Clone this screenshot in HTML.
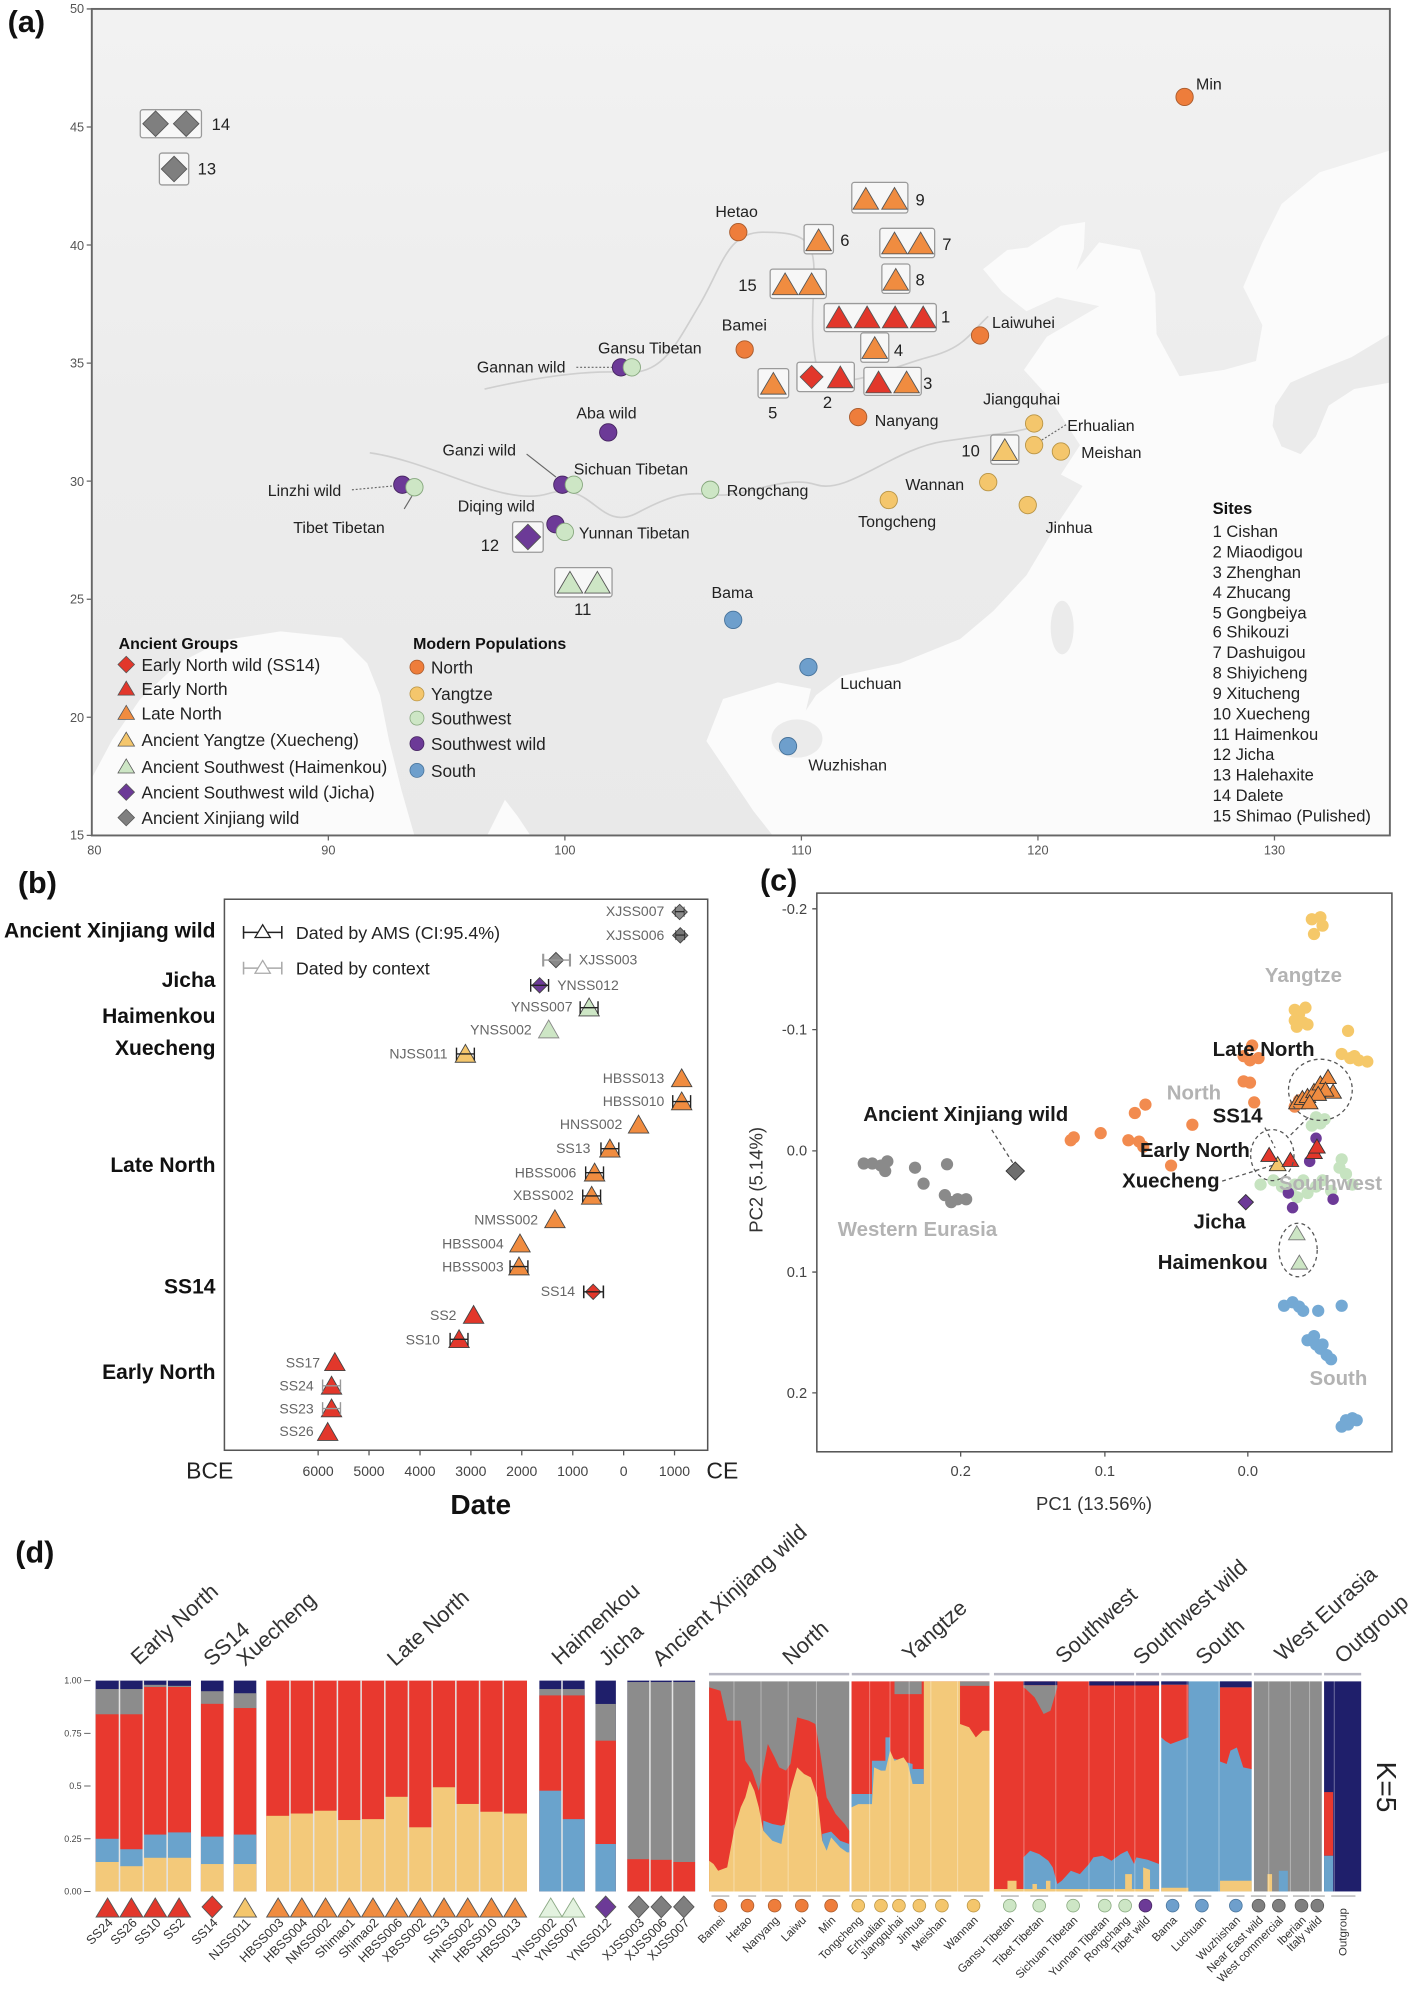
<!DOCTYPE html>
<html><head><meta charset="utf-8"><style>
html,body{margin:0;padding:0;background:#fff;}
svg{display:block;}
text{font-family:"Liberation Sans",Arial,sans-serif;}
</style></head><body>
<svg width="1409" height="2000" viewBox="0 0 1105 1568" preserveAspectRatio="none" xmlns="http://www.w3.org/2000/svg">
<defs>
<path id="tA" d="M0,-9L10,8L-10,8Z"/>
<path id="dA" d="M0,-10L10,0L0,10L-10,0Z"/>
<path id="tL" d="M0,-6L6.5,5L-6.5,5Z"/>
<path id="dL" d="M0,-6.5L6.5,0L0,6.5L-6.5,0Z"/>
<path id="tB" d="M0,-7.5L8,6.5L-8,6.5Z"/>
<path id="dB" d="M0,-6L6,0L0,6L-6,0Z"/>
<path id="tC" d="M0,-6L6.5,5L-6.5,5Z"/>
<path id="tD" d="M0,-8L9,7L-9,7Z"/>
<path id="dD" d="M0,-8.5L8,0L0,8.5L-8,0Z"/>
<path id="eb" d="M-7,1H7M-7,-4V6M7,-4V6" fill="none"/>
<linearGradient id="land" x1="0" y1="0" x2="0" y2="1">
<stop offset="0" stop-color="#f2f2f2"/><stop offset="0.5" stop-color="#ececec"/><stop offset="1" stop-color="#e9e9e9"/>
</linearGradient>
<clipPath id="mapclip"><rect x="72" y="7" width="1018" height="648"/></clipPath>
</defs>
<rect x="0" y="0" width="1105" height="1568" fill="#fff"/>

<!-- ================= PANEL A ================= -->
<g clip-path="url(#mapclip)">
<rect x="72" y="7" width="1018" height="648" fill="url(#land)"/>
<!-- east seas -->
<polygon fill="#fbfbfb" points="771,211 790,196 806,194 832,177 851,174 850,195 844,212 862,190 894,196 906,230 907,262 925,295 960,290 985,283 990,255 975,225 990,190 1005,160 1035,135 1090,118 1090,655 606,655 591,636 554,581 567,548 610,535 636,540 632,557 640,545 660,530 706,520 753,501 779,479 805,451 827,414 849,381 832,372 847,349 823,312 803,290 821,264 862,240 829,233 805,244 786,229"/>
<!-- Japan -->
<polygon fill="#ebebeb" points="1000,318 1012,300 1035,290 1060,280 1090,262 1090,300 1062,305 1042,318 1032,342 1020,356 1005,350 998,334"/>
<!-- Taiwan -->
<ellipse cx="833" cy="492" rx="9" ry="21" fill="#ebebeb"/>
<!-- Hainan -->
<ellipse cx="625" cy="579" rx="20" ry="15" fill="#ebebeb"/>
<!-- Bay of Bengal -->
<polygon fill="#fbfbfb" points="72,655 72,610 88,580 110,548 140,520 175,502 220,495 268,500 288,520 298,545 305,580 315,620 325,655"/>
<polygon fill="#fbfbfb" points="382,655 396,627 406,640 416,655"/>
<!-- rivers -->
<path d="M380,305 C420,296 460,290 490,292 S530,270 548,240 S570,182 598,182 S636,186 638,205 S634,255 640,285 S700,287 728,280 S760,262 775,248" fill="none" stroke="#cfcfcf" stroke-width="1.3"/>
<path d="M290,355 C340,362 395,398 430,387 S470,418 500,402 S540,386 562,388 S615,372 640,380 S700,352 740,346 S790,340 806,336" fill="none" stroke="#cfcfcf" stroke-width="1.3"/>
</g>
<rect x="72" y="7" width="1018" height="648" fill="none" stroke="#666" stroke-width="1.5"/>
<text x="6" y="25" font-size="24" font-weight="bold" fill="#111">(a)</text>
<!-- axis ticks -->
<g font-size="10" fill="#555" text-anchor="end">
<text x="66" y="10">50</text><text x="66" y="103">45</text><text x="66" y="196">40</text><text x="66" y="288">35</text>
<text x="66" y="381">30</text><text x="66" y="473">25</text><text x="66" y="566">20</text><text x="66" y="658">15</text>
</g>
<g stroke="#666" stroke-width="1">
<path d="M68,7H72M68,99.6H72M68,192.1H72M68,284.7H72M68,377.2H72M68,469.8H72M68,562.3H72M68,654.9H72"/>
<path d="M257.5,655V659M443,655V659M628.5,655V659M814,655V659M999.5,655V659"/>
</g>
<g font-size="10" fill="#555" text-anchor="middle">
<text x="74" y="670">80</text><text x="257.5" y="670">90</text><text x="443" y="670">100</text><text x="628.5" y="670">110</text><text x="814" y="670">120</text><text x="999.5" y="670">130</text>
</g>

<!-- site boxes -->
<g fill="#f7f7f7" stroke="#9a9a9a" stroke-width="1">
<rect x="110" y="86" width="48" height="22" rx="2"/>
<rect x="125" y="120" width="23" height="25" rx="2"/>
<rect x="668" y="143" width="44" height="24" rx="2"/>
<rect x="630.6" y="176" width="23" height="23" rx="2"/>
<rect x="690" y="179" width="43" height="23" rx="2"/>
<rect x="691.6" y="207" width="22" height="23" rx="2"/>
<rect x="604" y="211" width="44" height="23" rx="2"/>
<rect x="646.3" y="238" width="88" height="22" rx="2"/>
<rect x="675" y="261" width="22" height="23" rx="2"/>
<rect x="625" y="284" width="45" height="23" rx="2"/>
<rect x="677.5" y="288" width="45" height="22" rx="2"/>
<rect x="594.5" y="289" width="24" height="23" rx="2"/>
<rect x="777" y="341" width="22" height="23" rx="2"/>
<rect x="435" y="445" width="45" height="23" rx="2"/>
<rect x="402" y="409" width="24" height="24" rx="2"/>
</g>
<g stroke="#555" stroke-width="0.7">
<use href="#dA" x="122" y="97" fill="#7f7f7f"/>
<use href="#dA" x="146" y="97" fill="#7f7f7f"/>
<use href="#dA" x="136.5" y="132.5" fill="#7f7f7f"/>
<use href="#tA" x="679" y="156" fill="#f08c40"/><use href="#tA" x="701.5" y="156" fill="#f08c40"/>
<use href="#tA" x="642" y="188.5" fill="#f08c40"/>
<use href="#tA" x="701.5" y="191" fill="#f08c40"/><use href="#tA" x="722" y="191" fill="#f08c40"/>
<use href="#tA" x="702.5" y="219.5" fill="#f08c40"/>
<use href="#tA" x="615.7" y="223" fill="#f08c40"/><use href="#tA" x="636.5" y="223" fill="#f08c40"/>
<use href="#tA" x="658" y="249" fill="#e2372b"/><use href="#tA" x="680" y="249" fill="#e2372b"/><use href="#tA" x="702" y="249" fill="#e2372b"/><use href="#tA" x="724" y="249" fill="#e2372b"/>
<use href="#tA" x="686" y="273" fill="#f08c40"/>
<use href="#dA" transform="translate(636.5,295.5) scale(0.9)" fill="#e2372b"/>
<use href="#tA" x="659" y="296" fill="#e2372b"/>
<use href="#tA" x="689" y="300" fill="#e2372b"/><use href="#tA" x="711" y="300" fill="#f08c40"/>
<use href="#tA" x="606.5" y="301" fill="#f08c40"/>
<use href="#tA" x="788" y="353" fill="#f4c66c"/>
<use href="#tA" x="447" y="457" fill="#cde6c5"/><use href="#tA" x="468.5" y="457" fill="#cde6c5"/>
<use href="#dA" x="414" y="421" fill="#6c3a97"/>
</g>
<g font-size="13" fill="#222">
<text x="166" y="102">14</text><text x="155" y="137">13</text>
<text x="718" y="161">9</text><text x="659" y="193">6</text><text x="739" y="196">7</text><text x="718" y="224">8</text>
<text x="579" y="228">15</text><text x="738" y="253">1</text><text x="701" y="279">4</text>
<text x="649" y="320" text-anchor="middle">2</text><text x="724" y="305">3</text><text x="606" y="328" text-anchor="middle">5</text>
<text x="754" y="358">10</text><text x="457" y="482" text-anchor="middle">11</text><text x="377" y="432">12</text>
</g>

<!-- modern circles -->
<g stroke-width="0.7">
<circle cx="929" cy="76" r="6.8" fill="#ee7d3b" stroke="#a85a2c"/>
<circle cx="579" cy="182" r="6.8" fill="#ee7d3b" stroke="#a85a2c"/>
<circle cx="584" cy="274" r="6.8" fill="#ee7d3b" stroke="#a85a2c"/>
<circle cx="768.6" cy="263" r="6.8" fill="#ee7d3b" stroke="#a85a2c"/>
<circle cx="673" cy="327" r="6.8" fill="#ee7d3b" stroke="#a85a2c"/>
<circle cx="811" cy="332" r="6.8" fill="#f4c66c" stroke="#b89445"/>
<circle cx="811" cy="349" r="6.8" fill="#f4c66c" stroke="#b89445"/>
<circle cx="832" cy="354" r="6.8" fill="#f4c66c" stroke="#b89445"/>
<circle cx="775" cy="378" r="6.8" fill="#f4c66c" stroke="#b89445"/>
<circle cx="697" cy="392" r="6.8" fill="#f4c66c" stroke="#b89445"/>
<circle cx="806" cy="396" r="6.8" fill="#f4c66c" stroke="#b89445"/>
<circle cx="557" cy="384" r="6.8" fill="#cde6c5" stroke="#85a67c"/>
<circle cx="575" cy="486" r="6.8" fill="#6e9fcc" stroke="#46729a"/>
<circle cx="634" cy="523" r="6.8" fill="#6e9fcc" stroke="#46729a"/>
<circle cx="618" cy="585" r="6.8" fill="#6e9fcc" stroke="#46729a"/>
<circle cx="477" cy="339" r="6.8" fill="#6c3a97" stroke="#45245f"/>
<circle cx="487" cy="288" r="6.8" fill="#6c3a97" stroke="#45245f"/>
<circle cx="495.5" cy="288" r="6.8" fill="#cde6c5" stroke="#85a67c"/>
<circle cx="441" cy="380" r="6.8" fill="#6c3a97" stroke="#45245f"/>
<circle cx="450" cy="380" r="6.8" fill="#cde6c5" stroke="#85a67c"/>
<circle cx="315.5" cy="380" r="6.8" fill="#6c3a97" stroke="#45245f"/>
<circle cx="325" cy="382" r="6.8" fill="#cde6c5" stroke="#85a67c"/>
<circle cx="435.6" cy="411" r="6.8" fill="#6c3a97" stroke="#45245f"/>
<circle cx="443" cy="417" r="6.8" fill="#cde6c5" stroke="#85a67c"/>
</g>
<g stroke="#666" stroke-width="0.9" fill="none">
<path d="M452,288H480" stroke-dasharray="1.5,1.5"/>
<path d="M276,384L308,381" stroke-dasharray="1.5,1.5"/>
<path d="M413,356L436,374"/>
<path d="M323,389L317,399"/>
<path d="M817,345L836,333" stroke-dasharray="1.5,1.5"/>
</g>
<g font-size="12.5" fill="#222">
<text x="938" y="70">Min</text>
<text x="561" y="170">Hetao</text>
<text x="566" y="259">Bamei</text>
<text x="778" y="257">Laiwuhei</text>
<text x="686" y="334">Nanyang</text>
<text x="771" y="317">Jiangquhai</text>
<text x="837" y="338">Erhualian</text>
<text x="848" y="359">Meishan</text>
<text x="710" y="384">Wannan</text>
<text x="673" y="413">Tongcheng</text>
<text x="820" y="418">Jinhua</text>
<text x="570" y="389">Rongchang</text>
<text x="558" y="469">Bama</text>
<text x="659" y="540">Luchuan</text>
<text x="634" y="604">Wuzhishan</text>
<text x="452" y="328">Aba wild</text>
<text x="374" y="292">Gannan wild</text>
<text x="469" y="277">Gansu Tibetan</text>
<text x="347" y="357">Ganzi wild</text>
<text x="450" y="372">Sichuan Tibetan</text>
<text x="210" y="389">Linzhi wild</text>
<text x="230" y="418">Tibet Tibetan</text>
<text x="359" y="401">Diqing wild</text>
<text x="454" y="422">Yunnan Tibetan</text>
</g>

<!-- legends -->
<text x="93" y="509" font-size="12.5" font-weight="bold" fill="#111">Ancient Groups</text>
<g stroke="#555" stroke-width="0.6">
<use href="#dL" x="99" y="521" fill="#e2372b"/>
<use href="#tL" x="99" y="540" fill="#e2372b"/>
<use href="#tL" x="99" y="559" fill="#f08c40"/>
<use href="#tL" x="99" y="580" fill="#f4c66c"/>
<use href="#tL" x="99" y="601" fill="#cde6c5"/>
<use href="#dL" x="99" y="621" fill="#6c3a97"/>
<use href="#dL" x="99" y="641" fill="#7f7f7f"/>
</g>
<g font-size="13.5" fill="#222">
<text x="111" y="526">Early North wild (SS14)</text>
<text x="111" y="545">Early North</text>
<text x="111" y="564">Late North</text>
<text x="111" y="585">Ancient Yangtze (Xuecheng)</text>
<text x="111" y="606">Ancient Southwest (Haimenkou)</text>
<text x="111" y="626">Ancient Southwest wild (Jicha)</text>
<text x="111" y="646">Ancient Xinjiang wild</text>
</g>
<text x="324" y="509" font-size="12.5" font-weight="bold" fill="#111">Modern Populations</text>
<g stroke-width="0.6">
<circle cx="327" cy="523" r="5.5" fill="#ee7d3b" stroke="#a85a2c"/>
<circle cx="327" cy="544" r="5.5" fill="#f4c66c" stroke="#b89445"/>
<circle cx="327" cy="563" r="5.5" fill="#cde6c5" stroke="#85a67c"/>
<circle cx="327" cy="583" r="5.5" fill="#6c3a97" stroke="#45245f"/>
<circle cx="327" cy="604" r="5.5" fill="#6e9fcc" stroke="#46729a"/>
</g>
<g font-size="13.5" fill="#222">
<text x="338" y="528">North</text>
<text x="338" y="549">Yangtze</text>
<text x="338" y="568">Southwest</text>
<text x="338" y="588">Southwest wild</text>
<text x="338" y="609">South</text>
</g>
<text x="951" y="403" font-size="13" font-weight="bold" fill="#111">Sites</text>
<g font-size="13" fill="#222">
<text x="951" y="421">1 Cishan</text>
<text x="951" y="437">2 Miaodigou</text>
<text x="951" y="453">3 Zhenghan</text>
<text x="951" y="469">4 Zhucang</text>
<text x="951" y="485">5 Gongbeiya</text>
<text x="951" y="500">6 Shikouzi</text>
<text x="951" y="516">7 Dashuigou</text>
<text x="951" y="532">8 Shiyicheng</text>
<text x="951" y="548">9 Xitucheng</text>
<text x="951" y="564">10 Xuecheng</text>
<text x="951" y="580">11 Haimenkou</text>
<text x="951" y="596">12 Jicha</text>
<text x="951" y="612">13 Halehaxite</text>
<text x="951" y="628">14 Dalete</text>
<text x="951" y="644">15 Shimao (Pulished)</text>
</g>

<!-- ================= PANEL B ================= -->
<text x="14" y="700" font-size="24" font-weight="bold" fill="#111">(b)</text>
<rect x="176" y="705" width="379" height="432" fill="none" stroke="#555" stroke-width="1.2"/>
<g font-size="16.5" font-weight="bold" fill="#111" text-anchor="end">
<text x="169" y="735">Ancient Xinjiang wild</text>
<text x="169" y="774">Jicha</text>
<text x="169" y="802">Haimenkou</text>
<text x="169" y="827">Xuecheng</text>
<text x="169" y="919">Late North</text>
<text x="169" y="1014">SS14</text>
<text x="169" y="1081">Early North</text>
</g>
<!-- legend b -->
<g fill="none" stroke="#222" stroke-width="1.2"><path d="M191,731H221M191,726V736M221,726V736"/></g>
<path d="M206,725L212,735L200,735Z" fill="#fff" stroke="#222" stroke-width="1"/>
<g fill="none" stroke="#aaa" stroke-width="1.2"><path d="M191,759H221M191,754V764M221,754V764"/></g>
<path d="M206,753L212,763L200,763Z" fill="#fff" stroke="#aaa" stroke-width="1"/>
<text x="232" y="736" font-size="14" fill="#222">Dated by AMS (CI:95.4%)</text>
<text x="232" y="764" font-size="14" fill="#222">Dated by context</text>
<!-- x axis -->
<g stroke="#555" stroke-width="1"><path d="M249.5,1137V1141M289.4,1137V1141M329.4,1137V1141M369.3,1137V1141M409.2,1137V1141M449.2,1137V1141M489.1,1137V1141M529,1137V1141"/></g>
<g font-size="11" fill="#444" text-anchor="middle">
<text x="249.5" y="1157">6000</text><text x="289.4" y="1157">5000</text><text x="329.4" y="1157">4000</text><text x="369.3" y="1157">3000</text>
<text x="409.2" y="1157">2000</text><text x="449.2" y="1157">1000</text><text x="489.1" y="1157">0</text><text x="529" y="1157">1000</text>
</g>
<text x="146" y="1159" font-size="18" fill="#222">BCE</text>
<text x="554" y="1159" font-size="18" fill="#222">CE</text>
<text x="377" y="1187" font-size="22" font-weight="bold" fill="#111" text-anchor="middle">Date</text>
<!-- points b -->
<g stroke="#444" stroke-width="0.7">
<use href="#dB" x="533" y="715" fill="#8a8a8a"/>
<use href="#dB" x="533.5" y="733.3" fill="#777"/>
<use href="#dB" x="436" y="752.7" fill="#888"/>
<use href="#dB" x="423.2" y="772.5" fill="#6c3a97"/>
<use href="#tB" x="462" y="790" fill="#cde6c5"/>
<use href="#tB" x="430.3" y="807.2" fill="#cde6c5" stroke="#888"/>
<use href="#tB" x="365" y="826.3" fill="#f4c66c"/>
<use href="#tB" x="534.6" y="845.5" fill="#f08c40"/>
<use href="#tB" x="534.6" y="863.6" fill="#f08c40"/>
<use href="#tB" x="500.8" y="881.8" fill="#f08c40"/>
<use href="#tB" x="478.3" y="900.6" fill="#f08c40"/>
<use href="#tB" x="466.3" y="919.4" fill="#f08c40"/>
<use href="#tB" x="464" y="937.6" fill="#f08c40"/>
<use href="#tB" x="435.2" y="956" fill="#f08c40"/>
<use href="#tB" x="407.8" y="975" fill="#f08c40"/>
<use href="#tB" x="407" y="993" fill="#f08c40"/>
<use href="#dB" x="465.2" y="1012.8" fill="#e2372b"/>
<use href="#tB" x="371.4" y="1031" fill="#e2372b"/>
<use href="#tB" x="360" y="1050" fill="#e2372b"/>
<use href="#tB" x="262.6" y="1068" fill="#e2372b"/>
<use href="#tB" x="260" y="1086.5" fill="#e2372b"/>
<use href="#tB" x="260" y="1104.3" fill="#e2372b"/>
<use href="#tB" x="257" y="1122.8" fill="#e2372b"/>
</g>
<g stroke="#222" stroke-width="1.1">
<use href="#eb" transform="translate(533,714) scale(0.5,0.8)"/>
<use href="#eb" transform="translate(533.5,732.3) scale(0.5,0.8)"/>
<use href="#eb" x="423.2" y="771.5"/>
<use href="#eb" x="462" y="789"/>
<use href="#eb" x="365" y="825.3"/>
<use href="#eb" x="534.6" y="862.6"/>
<use href="#eb" x="478.3" y="899.6"/>
<use href="#eb" x="466.3" y="918.4"/>
<use href="#eb" x="464" y="936.6"/>
<use href="#eb" x="407" y="992"/>
<use href="#eb" transform="translate(465.5,1011.8) scale(1.1,1)"/>
<use href="#eb" x="360" y="1049"/>
</g>
<g stroke="#999" stroke-width="1.1">
<use href="#eb" transform="translate(436.5,751.7) scale(1.5,1)"/>
<use href="#eb" x="260" y="1085.5"/>
<use href="#eb" x="260" y="1103.3"/>
</g>
<g font-size="11" fill="#666" text-anchor="end">
<text x="521" y="718">XJSS007</text>
<text x="521" y="737">XJSS006</text>
<text x="454" y="756" text-anchor="start">XJSS003</text>
<text x="437" y="776" text-anchor="start">YNSS012</text>
<text x="449" y="793">YNSS007</text>
<text x="417" y="811">YNSS002</text>
<text x="351" y="830">NJSS011</text>
<text x="521" y="849">HBSS013</text>
<text x="521" y="867">HBSS010</text>
<text x="488" y="885">HNSS002</text>
<text x="463" y="904">SS13</text>
<text x="452" y="923">HBSS006</text>
<text x="450" y="941">XBSS002</text>
<text x="422" y="960">NMSS002</text>
<text x="395" y="979">HBSS004</text>
<text x="395" y="997">HBSS003</text>
<text x="451" y="1016">SS14</text>
<text x="358" y="1035">SS2</text>
<text x="345" y="1054">SS10</text>
<text x="251" y="1072">SS17</text>
<text x="246" y="1090">SS24</text>
<text x="246" y="1108">SS23</text>
<text x="246" y="1126">SS26</text>
</g>

<!-- ================= PANEL C ================= -->
<text x="596" y="698" font-size="24" font-weight="bold" fill="#111">(c)</text>
<rect x="640.6" y="700.2" width="451" height="438" fill="none" stroke="#555" stroke-width="1.2"/>
<g stroke="#555" stroke-width="1"><path d="M637,712.5H641M637,807.2H641M637,902.3H641M637,997.3H641M637,1092H641M753.4,1138V1142M866.5,1138V1142M978.6,1138V1142"/></g>
<g font-size="11.5" fill="#444" text-anchor="end">
<text x="633" y="716.5">-0.2</text><text x="633" y="811">-0.1</text><text x="633" y="906">0.0</text><text x="633" y="1001">0.1</text><text x="633" y="1096">0.2</text>
</g>
<g font-size="11.5" fill="#444" text-anchor="middle">
<text x="753.4" y="1157">0.2</text><text x="866.5" y="1157">0.1</text><text x="978.6" y="1157">0.0</text>
</g>
<text x="858" y="1184" font-size="14.5" fill="#333" text-anchor="middle">PC1 (13.56%)</text>
<text transform="translate(598,925) rotate(-90)" font-size="14.5" fill="#333" text-anchor="middle">PC2 (5.14%)</text>
<!-- points c -->
<g fill="#8a8a8a">
<circle cx="677.4" cy="912.2" r="4.8"/><circle cx="684.1" cy="912.2" r="4.8"/><circle cx="690.8" cy="913.8" r="4.8"/><circle cx="695.9" cy="910.5" r="4.8"/><circle cx="694.2" cy="918.1" r="4.8"/><circle cx="717.6" cy="915.5" r="4.8"/><circle cx="724.3" cy="928" r="4.8"/><circle cx="742.7" cy="912.8" r="4.8"/><circle cx="741" cy="937" r="4.8"/><circle cx="746" cy="942.5" r="4.8"/><circle cx="751" cy="940.2" r="4.8"/><circle cx="757.7" cy="940.2" r="4.8"/>
</g>
<g fill="#f28b4f">
<circle cx="839.7" cy="894" r="4.8"/><circle cx="842.1" cy="891.7" r="4.8"/><circle cx="863.2" cy="888.4" r="4.8"/><circle cx="884.9" cy="894" r="4.8"/><circle cx="893.3" cy="895" r="4.8"/><circle cx="896.6" cy="899" r="4.8"/><circle cx="890" cy="872.6" r="4.8"/><circle cx="898.3" cy="866" r="4.8"/><circle cx="918.4" cy="913.8" r="4.8"/><circle cx="935.1" cy="881.8" r="4.8"/><circle cx="975.3" cy="828" r="4.8"/><circle cx="980.3" cy="831.3" r="4.8"/><circle cx="987" cy="829.6" r="4.8"/><circle cx="975.3" cy="847.8" r="4.8"/><circle cx="980.3" cy="848.8" r="4.8"/><circle cx="983.6" cy="864.3" r="4.8"/><circle cx="982" cy="819.7" r="4.8"/><circle cx="1015.4" cy="867.6" r="4.8"/><circle cx="1018.8" cy="862.7" r="4.8"/>
</g>
<g fill="#f5c869">
<circle cx="1028.8" cy="720.7" r="4.8"/><circle cx="1035.5" cy="719.1" r="4.8"/><circle cx="1037.2" cy="725.7" r="4.8"/><circle cx="1030.5" cy="732.3" r="4.8"/><circle cx="1015.4" cy="791.7" r="4.8"/><circle cx="1018.8" cy="795" r="4.8"/><circle cx="1023.8" cy="790" r="4.8"/><circle cx="1015.4" cy="800" r="4.8"/><circle cx="1022" cy="801.6" r="4.8"/><circle cx="1017" cy="805" r="4.8"/><circle cx="1025.4" cy="803.2" r="4.8"/><circle cx="1057.2" cy="808.2" r="4.8"/><circle cx="1052.2" cy="826.3" r="4.8"/><circle cx="1058.9" cy="829.6" r="4.8"/><circle cx="1065.6" cy="831.3" r="4.8"/><circle cx="1072.3" cy="832.3" r="4.8"/><circle cx="1062.2" cy="828" r="4.8"/>
</g>
<g fill="#c6e3c0">
<circle cx="988.6" cy="928.7" r="4.8"/><circle cx="998.7" cy="925.4" r="4.8"/><circle cx="1005.4" cy="930.3" r="4.8"/><circle cx="1012" cy="933.6" r="4.8"/><circle cx="1017.1" cy="938.6" r="4.8"/><circle cx="1025.4" cy="935.3" r="4.8"/><circle cx="1032.1" cy="930.3" r="4.8"/><circle cx="1037.2" cy="925.4" r="4.8"/><circle cx="1043.9" cy="933.6" r="4.8"/><circle cx="1050.5" cy="915.5" r="4.8"/><circle cx="1052.2" cy="908.9" r="4.8"/><circle cx="1055.6" cy="920.4" r="4.8"/><circle cx="1060.6" cy="928.7" r="4.8"/><circle cx="1028.8" cy="882.5" r="4.8"/><circle cx="1035.5" cy="880.8" r="4.8"/><circle cx="1038.8" cy="877.5" r="4.8"/><circle cx="1032.1" cy="875.9" r="4.8"/><circle cx="1022.1" cy="925.4" r="4.8"/><circle cx="1015.4" cy="928.7" r="4.8"/>
</g>
<g fill="#74a9d4">
<circle cx="1007" cy="1023.7" r="4.8"/><circle cx="1013.7" cy="1021" r="4.8"/><circle cx="1018.8" cy="1024.4" r="4.8"/><circle cx="1022" cy="1027.7" r="4.8"/><circle cx="1033.8" cy="1027.7" r="4.8"/><circle cx="1052.2" cy="1023.7" r="4.8"/>
<circle cx="1025.4" cy="1050.8" r="4.8"/><circle cx="1030.5" cy="1047.5" r="4.8"/><circle cx="1035.5" cy="1057.4" r="4.8"/><circle cx="1040.5" cy="1062.4" r="4.8"/><circle cx="1043.9" cy="1065.7" r="4.8"/><circle cx="1032.1" cy="1054.1" r="4.8"/><circle cx="1037.2" cy="1054.1" r="4.8"/>
<circle cx="1055.6" cy="1113.5" r="4.8"/><circle cx="1060.6" cy="1111.9" r="4.8"/><circle cx="1064" cy="1113.5" r="4.8"/><circle cx="1057.2" cy="1116.8" r="4.8"/><circle cx="1052.2" cy="1118.5" r="4.8"/>
</g>
<g fill="#6c3a97">
<circle cx="1013.7" cy="946.8" r="4.5"/><circle cx="1027.1" cy="910.5" r="4.5"/><circle cx="1032.1" cy="892.4" r="4.5"/><circle cx="1045.5" cy="940.2" r="4.5"/><circle cx="1010.4" cy="935.3" r="4.5"/>
</g>
<g stroke="#333" stroke-width="0.7">
<path d="M977,936.5L983,942.5L977,948.5L971,942.5Z" fill="#6c3a97"/>
<path d="M796.2,911L803.4,918.1L796.2,925.2L789,918.1Z" fill="#6e6e6e"/>
<use href="#tC" x="1002" y="912.8" fill="#f4c66c"/>
<use href="#tC" x="995.3" y="905.6" fill="#e2372b"/>
<use href="#tC" x="1012" y="909.5" fill="#e2372b"/>
<use href="#tC" x="1030.5" y="903.3" fill="#e2372b"/>
<use href="#tC" x="1032.8" y="899" fill="#e2372b"/>
<use href="#tC" x="1017.1" y="864.3" fill="#f08c40"/>
<use href="#tC" x="1021.4" y="861" fill="#f08c40"/>
<use href="#tC" x="1025.4" y="859.4" fill="#f08c40"/>
<use href="#tC" x="1030.5" y="855.4" fill="#f08c40"/>
<use href="#tC" x="1035.5" y="849.5" fill="#f08c40"/>
<use href="#tC" x="1041.5" y="844.5" fill="#f08c40"/>
<use href="#tC" x="1045.5" y="856" fill="#f08c40"/>
<use href="#tC" x="1039.5" y="854.4" fill="#f08c40"/>
<use href="#tC" x="1033.8" y="857.7" fill="#f08c40"/>
<use href="#tC" x="1027.1" y="864.3" fill="#f08c40"/>
<use href="#tC" x="1017" y="967" fill="#cde6c5" stroke="#777"/>
<use href="#tC" x="1019" y="990" fill="#cde6c5" stroke="#777"/>
</g>
<g fill="none" stroke="#555" stroke-width="1" stroke-dasharray="3,2.5">
<ellipse cx="1035.5" cy="854.4" rx="25" ry="24"/>
<ellipse cx="997.8" cy="905.6" rx="17" ry="20"/>
<ellipse cx="1018" cy="980" rx="15" ry="21"/>
<path d="M777.8,885.8L794.6,912.2"/>
<path d="M958.5,926L1000,913"/>
<path d="M992,884L1000,900"/>
<path d="M1026,876L1012,890"/>
</g>
<g font-size="16" font-weight="bold" fill="#b3b3b3">
<text x="915" y="862">North</text>
<text x="992" y="770">Yangtze</text>
<text x="1003" y="933">Southwest</text>
<text x="1027" y="1086">South</text>
<text x="657" y="969">Western Eurasia</text>
</g>
<g font-size="16" font-weight="bold" fill="#1a1a1a">
<text x="951" y="828">Late North</text>
<text x="951" y="880">SS14</text>
<text x="894" y="907">Early North</text>
<text x="880" y="931">Xuecheng</text>
<text x="936" y="963">Jicha</text>
<text x="908" y="995">Haimenkou</text>
<text x="677" y="879">Ancient Xinjiang wild</text>
</g>

<!-- ================= PANEL D ================= -->
<text x="12" y="1225" font-size="24" font-weight="bold" fill="#111">(d)</text>
<g font-size="7" fill="#444" text-anchor="end">
<text x="64" y="1320">1.00</text><text x="64" y="1361.5">0.75</text><text x="64" y="1402.7">0.5</text><text x="64" y="1444">0.25</text><text x="64" y="1485.4">0.00</text>
</g>
<g stroke="#666" stroke-width="0.8"><path d="M66,1317.6H71M66,1359H71M66,1400.2H71M66,1441.6H71M66,1482.9H71"/></g>

<!-- ancient bars -->
<g>
<rect x="75" y="1317.6" width="18.7" height="165.3" fill="#1f1f6b"/><rect x="75" y="1324.2" width="18.7" height="158.7" fill="#8c8c8c"/><rect x="75" y="1344" width="18.7" height="138.9" fill="#e8392f"/><rect x="75" y="1441.6" width="18.7" height="41.3" fill="#6aa3cc"/><rect x="75" y="1459.8" width="18.7" height="23.1" fill="#f3c97a"/>
<rect x="93.7" y="1317.6" width="18.7" height="165.3" fill="#1f1f6b"/><rect x="93.7" y="1324.2" width="18.7" height="158.7" fill="#8c8c8c"/><rect x="93.7" y="1344" width="18.7" height="138.9" fill="#e8392f"/><rect x="93.7" y="1449.8" width="18.7" height="33.1" fill="#6aa3cc"/><rect x="93.7" y="1463.1" width="18.7" height="19.8" fill="#f3c97a"/>
<rect x="112.4" y="1317.6" width="18.7" height="165.3" fill="#1f1f6b"/><rect x="112.4" y="1320.9" width="18.7" height="162" fill="#8c8c8c"/><rect x="112.4" y="1322.6" width="18.7" height="160.3" fill="#e8392f"/><rect x="112.4" y="1438.3" width="18.7" height="44.6" fill="#6aa3cc"/><rect x="112.4" y="1456.5" width="18.7" height="26.4" fill="#f3c97a"/>
<rect x="131.1" y="1317.6" width="18.7" height="165.3" fill="#1f1f6b"/><rect x="131.1" y="1321.7" width="18.7" height="161.2" fill="#8c8c8c"/><rect x="131.1" y="1322.6" width="18.7" height="160.3" fill="#e8392f"/><rect x="131.1" y="1436.6" width="18.7" height="46.3" fill="#6aa3cc"/><rect x="131.1" y="1456.5" width="18.7" height="26.4" fill="#f3c97a"/>
<rect x="157.6" y="1317.6" width="17.7" height="165.3" fill="#1f1f6b"/><rect x="157.6" y="1325.9" width="17.7" height="157" fill="#8c8c8c"/><rect x="157.6" y="1335.8" width="17.7" height="147.1" fill="#e8392f"/><rect x="157.6" y="1439.9" width="17.7" height="43" fill="#6aa3cc"/><rect x="157.6" y="1461.4" width="17.7" height="21.5" fill="#f3c97a"/>
<rect x="183.4" y="1317.6" width="17.6" height="165.3" fill="#1f1f6b"/><rect x="183.4" y="1327.5" width="17.6" height="155.4" fill="#8c8c8c"/><rect x="183.4" y="1339.1" width="17.6" height="143.8" fill="#e8392f"/><rect x="183.4" y="1438.3" width="17.6" height="44.6" fill="#6aa3cc"/><rect x="183.4" y="1461.4" width="17.6" height="21.5" fill="#f3c97a"/>
<rect x="208.8" y="1317.6" width="204.5" height="165.3" fill="#e8392f"/>
<g fill="#f3c97a">
<rect x="208.8" y="1423.6" width="18.6" height="59.3"/>
<rect x="227.4" y="1421.8" width="18.6" height="61.1"/>
<rect x="246" y="1419.6" width="18.6" height="63.3"/>
<rect x="264.6" y="1426.9" width="18.6" height="56"/>
<rect x="283.2" y="1426.2" width="18.6" height="56.7"/>
<rect x="301.8" y="1408.7" width="18.6" height="74.2"/>
<rect x="320.3" y="1432.6" width="18.6" height="50.3"/>
<rect x="338.9" y="1401.2" width="18.6" height="81.7"/>
<rect x="357.5" y="1414.3" width="18.6" height="68.6"/>
<rect x="376.1" y="1420.4" width="18.6" height="62.5"/>
<rect x="394.7" y="1421.8" width="18.6" height="61.1"/>
</g>
<rect x="423" y="1317.6" width="35.5" height="165.3" fill="#1f1f6b"/>
<rect x="423" y="1324.2" width="35.5" height="158.7" fill="#8c8c8c"/>
<rect x="423" y="1329.2" width="35.5" height="153.7" fill="#e8392f"/>
<rect x="423" y="1403.9" width="17.75" height="79" fill="#6aa3cc"/>
<rect x="440.75" y="1426.2" width="17.75" height="56.7" fill="#6aa3cc"/>
<rect x="467" y="1317.6" width="16" height="165.3" fill="#1f1f6b"/>
<rect x="467" y="1335.9" width="16" height="147" fill="#8c8c8c"/>
<rect x="467" y="1364.7" width="16" height="118.2" fill="#e8392f"/>
<rect x="467" y="1445.7" width="16" height="37.2" fill="#6aa3cc"/>
<rect x="492" y="1317.6" width="53.1" height="165.3" fill="#1f1f6b"/>
<rect x="492" y="1318.7" width="53.1" height="164.2" fill="#8c8c8c"/>
<rect x="492" y="1457.6" width="17.7" height="25.3" fill="#e8392f"/>
<rect x="509.7" y="1458.1" width="17.7" height="24.8" fill="#e8392f"/>
<rect x="527.4" y="1459.8" width="17.7" height="23.1" fill="#e8392f"/>
</g>
<g stroke="#e4e4e4" stroke-width="1.2">
<path d="M93.7,1317.6V1482.9M112.4,1317.6V1482.9M131.1,1317.6V1482.9M227.4,1317.6V1482.9M246,1317.6V1482.9M264.6,1317.6V1482.9M283.2,1317.6V1482.9M301.8,1317.6V1482.9M320.3,1317.6V1482.9M338.9,1317.6V1482.9M357.5,1317.6V1482.9M376.1,1317.6V1482.9M394.7,1317.6V1482.9M440.75,1317.6V1482.9M509.7,1317.6V1482.9M527.4,1317.6V1482.9"/>
</g>

<!-- modern bars -->
<rect x="556.1" y="1318.2" width="109.9" height="164.7" fill="#8c8c8c"/>
<polygon fill="#e8392f" points="556.1,1482.9 556.1,1322.9 565,1325.5 570.3,1349 580.9,1349 584.5,1380.4 589.8,1388.2 595.1,1403.9 602.2,1367.3 607.5,1377.8 611.1,1385.6 616.4,1388.2 619.9,1383 625.2,1346.4 634.1,1349 639.4,1351.6 643,1372.5 648.3,1409.1 655.4,1422.2 662.5,1430.1 666,1435.3 666,1482.9"/>
<polygon fill="#6aa3cc" points="598.6,1482.9 598.6,1427.4 605.7,1430 612.8,1431.4 616.4,1430 616.4,1482.9"/>
<polygon fill="#6aa3cc" points="644.8,1482.9 644.8,1437.9 651.8,1436 658.9,1443.1 666,1445.7 666,1482.9"/>
<polygon fill="#f3c97a" points="556.1,1482.9 556.1,1458.8 559.6,1461.4 563.2,1466.7 570.3,1464 575.6,1435.3 580.9,1417 584.5,1409.1 588,1396.1 591.6,1403.9 595.1,1417 598.6,1435.3 605.7,1443.1 612.8,1445.7 619.9,1403.9 625.2,1385.6 630.6,1390.8 635.9,1393.5 641.2,1409.1 644.8,1443.1 648.3,1451 651.8,1440.5 658.9,1448.4 664.3,1452.3 666,1452.3 666,1482.9"/>
<rect x="667.8" y="1318.2" width="108.2" height="164.7" fill="#e8392f"/>
<rect x="701.5" y="1318.2" width="21.3" height="10" fill="#8c8c8c"/>
<rect x="752.9" y="1318.2" width="23.1" height="3.5" fill="#8c8c8c"/>
<polygon fill="#6aa3cc" points="667.8,1482.9 667.8,1406.5 683.8,1406.5 683.8,1380.4 694.4,1380.4 694.4,1362.1 698,1362.1 698,1378 715.7,1383 715.7,1386.9 724.5,1386.9 724.5,1482.9"/>
<polygon fill="#f3c97a" points="667.8,1482.9 667.8,1417 673.1,1414.4 683.8,1414.4 685.5,1385.6 690.9,1388.2 694.4,1388.2 698,1372.5 701.5,1380.4 708.6,1377.8 712.1,1383 715.7,1398.7 722.8,1398.7 724.5,1398.7 724.5,1318.2 752.9,1318.2 752.9,1351.6 760,1354.2 765.3,1362.1 770.6,1356.9 776,1356.9 776,1482.9"/>
<rect x="779.5" y="1318.2" width="129.5" height="164.7" fill="#e8392f"/>
<rect x="802.6" y="1318.2" width="26.6" height="3" fill="#1f1f6b"/>
<rect x="854" y="1318.2" width="55" height="3.2" fill="#1f1f6b"/>
<polygon fill="#8c8c8c" points="802.6,1321.2 829.2,1321.2 829.2,1322.9 823.8,1341.2 818.5,1343.8 811.4,1330.7 804.3,1324 802.6,1322.9"/>
<polygon fill="#6aa3cc" points="779.5,1482.9 779.5,1481 802.6,1481 802.6,1456.2 807.9,1451 815,1453.6 822.1,1458.8 825.6,1464 829.2,1477.1 832.7,1474.5 839.8,1466.7 846.9,1469.3 854,1461.4 857.5,1456.2 864.6,1454.9 871.7,1458.8 878.8,1453.6 884.1,1451 889.4,1461.4 891.2,1456.2 900,1458 909,1461.4 909,1482.9"/>
<polygon fill="#f3c97a" points="779.5,1482.9 779.5,1481 790.1,1481 790.1,1474.5 797.2,1474.5 797.2,1481 809.7,1481 809.7,1477.1 813.2,1477.1 813.2,1481 820.3,1481 820.3,1474.5 823.8,1474.5 823.8,1481 882.4,1481 882.4,1469.3 887.7,1469.3 887.7,1481 896.5,1481 896.5,1464 901.9,1466 901.9,1481 909,1481 909,1482.9"/>
<rect x="910.7" y="1318.2" width="70.9" height="164.7" fill="#6aa3cc"/>
<rect x="910.7" y="1318.2" width="21.3" height="2.6" fill="#1f1f6b"/>
<rect x="956.8" y="1318.2" width="24.8" height="4.7" fill="#1f1f6b"/>
<polygon fill="#e8392f" points="910.7,1320.8 932,1320.8 932,1362.1 925,1364.7 918,1367.3 914,1365 910.7,1362.1"/>
<polygon fill="#e8392f" points="956.8,1322.9 981.6,1322.9 981.6,1387 975,1385.6 970,1370 965,1372.5 962,1383 956.8,1381"/>
<rect x="956.8" y="1474.5" width="24.8" height="8.4" fill="#f3c97a"/>
<rect x="910.7" y="1480" width="21.3" height="2.9" fill="#f3c97a"/>
<rect x="983.4" y="1318.2" width="53.2" height="164.7" fill="#8c8c8c"/>
<rect x="994" y="1469.3" width="3.6" height="13.6" fill="#f3c97a"/>
<rect x="1002.9" y="1466.7" width="7.1" height="16.2" fill="#6aa3cc"/>
<rect x="1038.4" y="1318.2" width="29.1" height="164.7" fill="#1f1f6b"/>
<rect x="1038.4" y="1405" width="7.1" height="49.9" fill="#e8392f"/>
<rect x="1038.4" y="1454.9" width="7.1" height="28" fill="#6aa3cc"/>
<g stroke="#ffffff" stroke-opacity="0.35" stroke-width="0.8">
<path d="M575.6,1318V1483M596.8,1318V1483M618.1,1318V1483M640.3,1318V1483M682,1318V1483M698,1318V1483M713,1318V1483M730,1318V1483M751,1318V1483M803,1318V1483M828,1318V1483M854,1318V1483M874,1318V1483M890,1318V1483M931,1318V1483M956,1318V1483M995,1318V1483M1012,1318V1483M1027,1318V1483M1046.4,1318V1483"/>
</g>
<g stroke="#b8b8c4" stroke-width="2">
<path d="M556,1312.5H666M668,1312.5H776M779.5,1312.5H889.4M891,1312.5H909M910.7,1312.5H981.6M983.4,1312.5H1036.6M1038.4,1312.5H1067.5"/>
</g>
<g stroke="#c8c8c8" stroke-width="1.5">
<path d="M558,1486.5H572M579,1486.5H593M600,1486.5H614M622,1486.5H636M645,1486.5H659M666,1486.5H680M684,1486.5H697M699,1486.5H711M714,1486.5H728M732,1486.5H746M756,1486.5H771M785,1486.5H799M808,1486.5H822M835,1486.5H849M860,1486.5H873M876,1486.5H889M892,1486.5H905M913,1486.5H927M936,1486.5H950M962,1486.5H976M981,1486.5H993M996,1486.5H1010M1014,1486.5H1027M1028,1486.5H1039M1044,1486.5H1063"/>
</g>

<!-- ancient markers d -->
<g stroke="#555" stroke-width="0.7">
<use href="#tD" x="84.35" y="1496" fill="#e2372b"/><use href="#tD" x="103.05" y="1496" fill="#e2372b"/><use href="#tD" x="121.75" y="1496" fill="#e2372b"/><use href="#tD" x="140.45" y="1496" fill="#e2372b"/>
<use href="#dD" x="166.45" y="1495" fill="#e2372b"/>
<use href="#tD" x="192.2" y="1496" fill="#f4c66c"/>
<use href="#tD" x="218.1" y="1496" fill="#f08c40"/><use href="#tD" x="236.7" y="1496" fill="#f08c40"/><use href="#tD" x="255.3" y="1496" fill="#f08c40"/><use href="#tD" x="273.9" y="1496" fill="#f08c40"/><use href="#tD" x="292.5" y="1496" fill="#f08c40"/><use href="#tD" x="311.1" y="1496" fill="#f08c40"/><use href="#tD" x="329.6" y="1496" fill="#f08c40"/><use href="#tD" x="348.2" y="1496" fill="#f08c40"/><use href="#tD" x="366.8" y="1496" fill="#f08c40"/><use href="#tD" x="385.4" y="1496" fill="#f08c40"/><use href="#tD" x="404" y="1496" fill="#f08c40"/>
<use href="#tD" x="431.9" y="1496" fill="#e3f2df" stroke="#8aa884"/><use href="#tD" x="449.6" y="1496" fill="#e3f2df" stroke="#8aa884"/>
<use href="#dD" x="475" y="1495" fill="#6c3a97"/>
<use href="#dD" x="500.9" y="1495" fill="#7f7f7f"/><use href="#dD" x="518.6" y="1495" fill="#7f7f7f"/><use href="#dD" x="536.3" y="1495" fill="#7f7f7f"/>
</g>
<g stroke-width="0.6">
<circle cx="565" cy="1494" r="5" fill="#ee7d3b" stroke="#a85a2c"/><circle cx="586.2" cy="1494" r="5" fill="#ee7d3b" stroke="#a85a2c"/><circle cx="607.5" cy="1494" r="5" fill="#ee7d3b" stroke="#a85a2c"/><circle cx="628.8" cy="1494" r="5" fill="#ee7d3b" stroke="#a85a2c"/><circle cx="651.8" cy="1494" r="5" fill="#ee7d3b" stroke="#a85a2c"/>
<circle cx="673.1" cy="1494" r="5" fill="#f4c66c" stroke="#b89445"/><circle cx="690.9" cy="1494" r="5" fill="#f4c66c" stroke="#b89445"/><circle cx="705" cy="1494" r="5" fill="#f4c66c" stroke="#b89445"/><circle cx="721" cy="1494" r="5" fill="#f4c66c" stroke="#b89445"/><circle cx="738.7" cy="1494" r="5" fill="#f4c66c" stroke="#b89445"/><circle cx="763.5" cy="1494" r="5" fill="#f4c66c" stroke="#b89445"/>
<circle cx="791.9" cy="1494" r="5" fill="#cde6c5" stroke="#85a67c"/><circle cx="815" cy="1494" r="5" fill="#cde6c5" stroke="#85a67c"/><circle cx="841.6" cy="1494" r="5" fill="#cde6c5" stroke="#85a67c"/><circle cx="866.4" cy="1494" r="5" fill="#cde6c5" stroke="#85a67c"/><circle cx="882.4" cy="1494" r="5" fill="#cde6c5" stroke="#85a67c"/>
<circle cx="898.3" cy="1494" r="5" fill="#6c3a97" stroke="#45245f"/>
<circle cx="919.6" cy="1494" r="5" fill="#6e9fcc" stroke="#46729a"/><circle cx="942.6" cy="1494" r="5" fill="#6e9fcc" stroke="#46729a"/><circle cx="969.2" cy="1494" r="5" fill="#6e9fcc" stroke="#46729a"/>
<circle cx="987" cy="1494" r="5" fill="#7f7f7f" stroke="#555"/><circle cx="1002.9" cy="1494" r="5" fill="#7f7f7f" stroke="#555"/><circle cx="1020.7" cy="1494" r="5" fill="#7f7f7f" stroke="#555"/><circle cx="1033.1" cy="1494" r="5" fill="#7f7f7f" stroke="#555"/>
</g>
<g font-size="17" fill="#333">
<text transform="translate(109,1306) rotate(-42)">Early North</text>
<text transform="translate(166,1307) rotate(-42)">SS14</text>
<text transform="translate(192,1307) rotate(-42)">Xuecheng</text>
<text transform="translate(310,1307) rotate(-42)">Late North</text>
<text transform="translate(439,1306) rotate(-42)">Haimenkou</text>
<text transform="translate(476,1307) rotate(-42)">Jicha</text>
<text transform="translate(518,1307) rotate(-42)">Ancient Xinjiang wild</text>
<text transform="translate(620,1306) rotate(-42)">North</text>
<text transform="translate(714,1303) rotate(-42)">Yangtze</text>
<text transform="translate(834,1305) rotate(-42)">Southwest</text>
<text transform="translate(895,1306) rotate(-42)">Southwest wild</text>
<text transform="translate(944,1306) rotate(-42)">South</text>
<text transform="translate(1006,1303) rotate(-42)">West Eurasia</text>
<text transform="translate(1053,1305) rotate(-42)">Outgroup</text>
</g>
<text transform="translate(1080,1401) rotate(90)" font-size="22" fill="#222" text-anchor="middle">K=5</text>
<g font-size="10" fill="#333" text-anchor="end">
<text transform="translate(89,1508) rotate(-45)">SS24</text>
<text transform="translate(108,1508) rotate(-45)">SS26</text>
<text transform="translate(126.7,1508) rotate(-45)">SS10</text>
<text transform="translate(145.4,1508) rotate(-45)">SS2</text>
<text transform="translate(171.4,1508) rotate(-45)">SS14</text>
<text transform="translate(197.2,1508) rotate(-45)">NJSS011</text>
<text transform="translate(223,1508) rotate(-45)">HBSS003</text>
<text transform="translate(241.7,1508) rotate(-45)">HBSS004</text>
<text transform="translate(260.3,1508) rotate(-45)">NMSS002</text>
<text transform="translate(278.9,1508) rotate(-45)">Shimao1</text>
<text transform="translate(297.5,1508) rotate(-45)">Shimao2</text>
<text transform="translate(316.1,1508) rotate(-45)">HBSS006</text>
<text transform="translate(334.6,1508) rotate(-45)">XBSS002</text>
<text transform="translate(353.2,1508) rotate(-45)">SS13</text>
<text transform="translate(371.8,1508) rotate(-45)">HNSS002</text>
<text transform="translate(390.4,1508) rotate(-45)">HBSS010</text>
<text transform="translate(409,1508) rotate(-45)">HBSS013</text>
<text transform="translate(436.9,1508) rotate(-45)">YNSS002</text>
<text transform="translate(454.6,1508) rotate(-45)">YNSS007</text>
<text transform="translate(480,1508) rotate(-45)">YNSS012</text>
<text transform="translate(505.9,1508) rotate(-45)">XJSS003</text>
<text transform="translate(523.6,1508) rotate(-45)">XJSS006</text>
<text transform="translate(541.3,1508) rotate(-45)">XJSS007</text>
</g>
<g font-size="9" fill="#333" text-anchor="end">
<text transform="translate(569,1506) rotate(-45)">Bamei</text>
<text transform="translate(590,1506) rotate(-45)">Hetao</text>
<text transform="translate(611.5,1506) rotate(-45)">Nanyang</text>
<text transform="translate(632.8,1506) rotate(-45)">Laiwu</text>
<text transform="translate(655.8,1506) rotate(-45)">Min</text>
<text transform="translate(677,1506) rotate(-45)">Tongcheng</text>
<text transform="translate(694.9,1506) rotate(-45)">Erhualian</text>
<text transform="translate(709,1506) rotate(-45)">Jiangquhai</text>
<text transform="translate(725,1506) rotate(-45)">Jinhua</text>
<text transform="translate(742.7,1506) rotate(-45)">Meishan</text>
<text transform="translate(767.5,1506) rotate(-45)">Wannan</text>
<text transform="translate(795.9,1506) rotate(-45)">Gansu Tibetan</text>
<text transform="translate(819,1506) rotate(-45)">Tibet Tibetan</text>
<text transform="translate(845.6,1506) rotate(-45)">Sichuan Tibetan</text>
<text transform="translate(870.4,1506) rotate(-45)">Yunnan Tibetan</text>
<text transform="translate(886.4,1506) rotate(-45)">Rongchang</text>
<text transform="translate(902.3,1506) rotate(-45)">Tibet wild</text>
<text transform="translate(923.6,1506) rotate(-45)">Bama</text>
<text transform="translate(946.6,1506) rotate(-45)">Luchuan</text>
<text transform="translate(973.2,1506) rotate(-45)">Wuzhishan</text>
<text transform="translate(991,1506) rotate(-45)">Near East wild</text>
<text transform="translate(1006.9,1506) rotate(-45)">West commercial</text>
<text transform="translate(1024.7,1506) rotate(-45)">Iberian</text>
<text transform="translate(1037.1,1506) rotate(-45)">Italy wild</text>
<text transform="translate(1056,1496) rotate(-90)">Outgroup</text>
</g>
</svg>
</body></html>
